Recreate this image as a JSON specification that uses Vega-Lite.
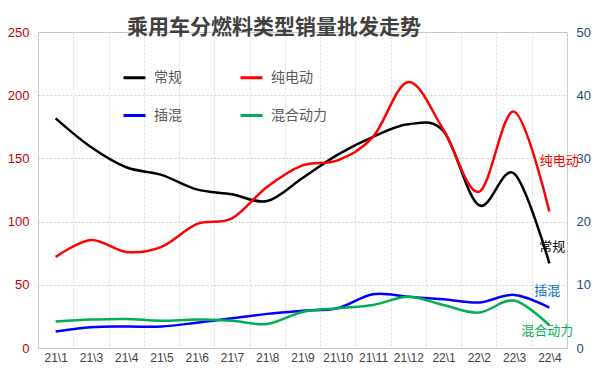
{
  "$schema": "https://vega.github.io/schema/vega-lite/v6.json",
  "width": 529,
  "height": 316,
  "autosize": {"type": "none"},
  "padding": {"left": 38, "top": 32, "right": 35, "bottom": 23},
  "background": "white",
  "config": {
    "view": {"stroke": "#bfbfbf", "strokeWidth": 1},
    "text": {"font": "Noto Sans CJK SC"}
  },
  "title": {
    "text": "乘用车分燃料类型销量批发走势",
    "anchor": "start",
    "frame": "group",
    "dx": 89,
    "offset": -23,
    "fontSize": 21,
    "font": "Noto Sans CJK SC",
    "fontWeight": "bold",
    "color": "#404040",
    "baseline": "middle"
  },
  "data": {
    "values": [
      {"month": "21\\1", "type": "常规", "value": 181.7},
      {"month": "21\\3", "type": "常规", "value": 159},
      {"month": "21\\4", "type": "常规", "value": 143},
      {"month": "21\\5", "type": "常规", "value": 137},
      {"month": "21\\6", "type": "常规", "value": 125.5},
      {"month": "21\\7", "type": "常规", "value": 121.6},
      {"month": "21\\8", "type": "常规", "value": 116.3},
      {"month": "21\\9", "type": "常规", "value": 134.5},
      {"month": "21\\10", "type": "常规", "value": 153},
      {"month": "21\\11", "type": "常规", "value": 167},
      {"month": "21\\12", "type": "常规", "value": 177},
      {"month": "22\\1", "type": "常规", "value": 171.5},
      {"month": "22\\2", "type": "常规", "value": 113},
      {"month": "22\\3", "type": "常规", "value": 138},
      {"month": "22\\4", "type": "常规", "value": 67},
      {"month": "21\\1", "type": "纯电动", "value": 14.4},
      {"month": "21\\3", "type": "纯电动", "value": 17.1},
      {"month": "21\\4", "type": "纯电动", "value": 15.2},
      {"month": "21\\5", "type": "纯电动", "value": 16.0},
      {"month": "21\\6", "type": "纯电动", "value": 19.6},
      {"month": "21\\7", "type": "纯电动", "value": 20.5},
      {"month": "21\\8", "type": "纯电动", "value": 25.5},
      {"month": "21\\9", "type": "纯电动", "value": 28.9},
      {"month": "21\\10", "type": "纯电动", "value": 29.7},
      {"month": "21\\11", "type": "纯电动", "value": 33.4},
      {"month": "21\\12", "type": "纯电动", "value": 42.1},
      {"month": "22\\1", "type": "纯电动", "value": 34.5},
      {"month": "22\\2", "type": "纯电动", "value": 24.7},
      {"month": "22\\3", "type": "纯电动", "value": 37.4},
      {"month": "22\\4", "type": "纯电动", "value": 21.6},
      {"month": "21\\1", "type": "插混", "value": 2.6},
      {"month": "21\\3", "type": "插混", "value": 3.3},
      {"month": "21\\4", "type": "插混", "value": 3.4},
      {"month": "21\\5", "type": "插混", "value": 3.4},
      {"month": "21\\6", "type": "插混", "value": 4.0},
      {"month": "21\\7", "type": "插混", "value": 4.7},
      {"month": "21\\8", "type": "插混", "value": 5.4},
      {"month": "21\\9", "type": "插混", "value": 5.9},
      {"month": "21\\10", "type": "插混", "value": 6.3},
      {"month": "21\\11", "type": "插混", "value": 8.5},
      {"month": "21\\12", "type": "插混", "value": 8.1},
      {"month": "22\\1", "type": "插混", "value": 7.7},
      {"month": "22\\2", "type": "插混", "value": 7.2},
      {"month": "22\\3", "type": "插混", "value": 8.4},
      {"month": "22\\4", "type": "插混", "value": 6.4},
      {"month": "21\\1", "type": "混合动力", "value": 4.2},
      {"month": "21\\3", "type": "混合动力", "value": 4.5},
      {"month": "21\\4", "type": "混合动力", "value": 4.6},
      {"month": "21\\5", "type": "混合动力", "value": 4.3},
      {"month": "21\\6", "type": "混合动力", "value": 4.5},
      {"month": "21\\7", "type": "混合动力", "value": 4.3},
      {"month": "21\\8", "type": "混合动力", "value": 3.8},
      {"month": "21\\9", "type": "混合动力", "value": 5.7},
      {"month": "21\\10", "type": "混合动力", "value": 6.3},
      {"month": "21\\11", "type": "混合动力", "value": 6.8},
      {"month": "21\\12", "type": "混合动力", "value": 8.1},
      {"month": "22\\1", "type": "混合动力", "value": 6.8},
      {"month": "22\\2", "type": "混合动力", "value": 5.6},
      {"month": "22\\3", "type": "混合动力", "value": 7.5},
      {"month": "22\\4", "type": "混合动力", "value": 3.6}
    ]
  },
  "encoding": {
    "x": {
      "field": "month",
      "type": "nominal",
      "sort": null,
      "scale": {"type": "band", "paddingInner": 0, "paddingOuter": 0},
      "axis": {
        "title": null,
        "labelAngle": 0,
        "tickBand": "extent",
        "grid": true,
        "gridDash": [2, 2],
        "gridColor": "#d9d9d9",
        "domain": false,
        "ticks": false,
        "labelPadding": 4,
        "labelFontSize": 12,
        "labelFont": "Liberation Sans",
        "labelColor": "#404040"
      }
    }
  },
  "layer": [
    {
      "transform": [{"filter": {"field": "type", "equal": "常规"}}],
      "encoding": {
        "y": {
          "field": "value",
          "type": "quantitative",
          "scale": {"domain": [0, 250], "nice": false},
          "axis": {
            "orient": "left",
            "title": null,
            "values": [0, 50, 100, 150, 200, 250],
            "grid": true,
            "gridDash": [2, 2],
            "gridColor": "#d0d0d0",
            "domain": false,
            "ticks": false,
            "labelPadding": 9,
            "labelFontSize": 13,
            "labelFont": "Liberation Sans",
            "labelColor": "#c00000"
          }
        }
      },
      "layer": [
        {
          "mark": {"type": "line", "interpolate": "cardinal", "strokeWidth": 2.5},
          "encoding": {
            "color": {
              "field": "type",
              "type": "nominal",
              "scale": {
                "domain": ["常规", "插混", "纯电动", "混合动力"],
                "range": ["#000000", "#0000ff", "#ff0000", "#00b050"]
              },
              "legend": {
                "title": null,
                "orient": "none",
                "legendX": 84,
                "legendY": 33,
                "columns": 2,
                "padding": 0,
                "columnPadding": 52,
                "rowPadding": 18,
                "symbolType": "stroke",
                "symbolSize": 484,
                "symbolStrokeWidth": 3,
                "labelOffset": 7,
                "labelFontSize": 14,
                "labelFont": "Noto Sans CJK SC",
                "labelColor": "#595959"
              }
            }
          }
        },
        {
          "transform": [{"filter": {"field": "month", "equal": "22\\4"}}],
          "mark": {"type": "text", "fontSize": 13, "color": "#000000", "dx": 3, "dy": -16},
          "encoding": {"text": {"field": "type"}}
        }
      ]
    },
    {
      "transform": [{"filter": {"field": "type", "oneOf": ["纯电动", "插混", "混合动力"]}}],
      "encoding": {
        "y": {
          "field": "value",
          "type": "quantitative",
          "scale": {"domain": [0, 50], "nice": false},
          "axis": {
            "orient": "right",
            "title": null,
            "values": [0, 10, 20, 30, 40, 50],
            "grid": false,
            "domain": false,
            "ticks": false,
            "labelPadding": 9,
            "labelFontSize": 13,
            "labelFont": "Liberation Sans",
            "labelColor": "#254a7e"
          }
        }
      },
      "layer": [
        {
          "mark": {"type": "line", "interpolate": "cardinal"},
          "encoding": {
            "color": {"field": "type", "type": "nominal"},
            "strokeWidth": {
              "field": "type",
              "type": "nominal",
              "scale": {"domain": ["纯电动", "插混", "混合动力"], "range": [2.5, 2.5, 3.8]},
              "legend": null
            }
          }
        },
        {
          "transform": [{"filter": {"field": "month", "equal": "22\\4"}}, {"filter": {"field": "type", "equal": "纯电动"}}],
          "mark": {"type": "text", "fontSize": 13, "color": "#ff0000", "dx": 10, "dy": -50},
          "encoding": {"text": {"field": "type"}}
        },
        {
          "transform": [{"filter": {"field": "month", "equal": "22\\4"}}, {"filter": {"field": "type", "equal": "插混"}}],
          "mark": {"type": "text", "fontSize": 13, "color": "#0070c0", "dx": -2, "dy": -17},
          "encoding": {"text": {"field": "type"}}
        },
        {
          "transform": [{"filter": {"field": "month", "equal": "22\\4"}}, {"filter": {"field": "type", "equal": "混合动力"}}],
          "mark": {"type": "text", "fontSize": 13, "color": "#00b050", "dx": -2, "dy": 6},
          "encoding": {"text": {"field": "type"}}
        }
      ]
    }
  ],
  "resolve": {"scale": {"y": "independent", "strokeWidth": "independent"}}
}
